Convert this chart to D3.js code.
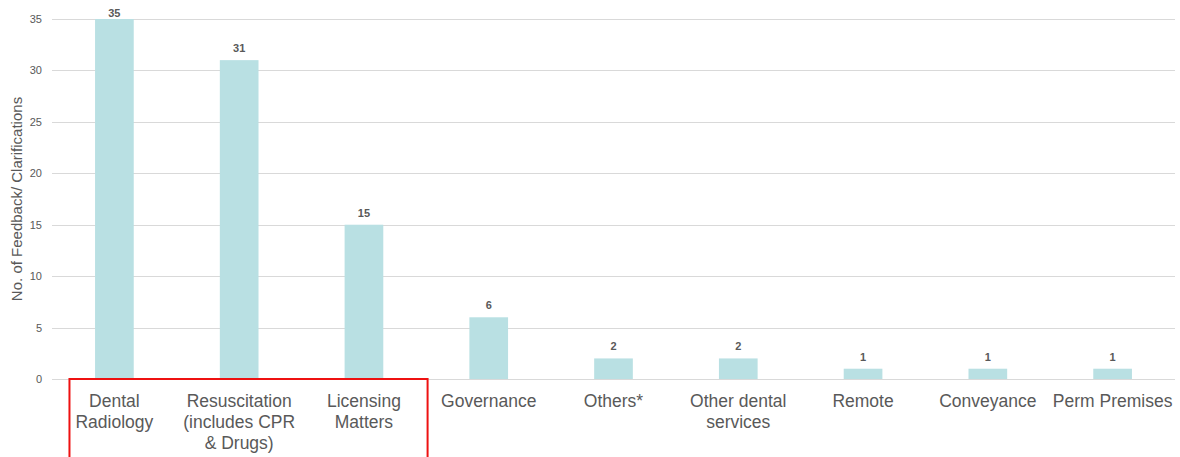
<!DOCTYPE html>
<html>
<head>
<meta charset="utf-8">
<script src="https://cdn.jsdelivr.net/npm/d3@7"></script>
<style>
  body { margin: 0; background: #fff; }
  svg { display: block; }
  svg text { font-family: 'Liberation Sans', Arial, sans-serif; }
</style>
</head>
<body>
<svg id="chart" width="1180" height="457"></svg>
<script>
// data
const categories = [
  ['Dental', 'Radiology'],
  ['Resuscitation', '(includes CPR', '& Drugs)'],
  ['Licensing', 'Matters'],
  ['Governance'],
  ['Others*'],
  ['Other dental', 'services'],
  ['Remote'],
  ['Conveyance'],
  ['Perm Premises']
];
const counts = [35, 31, 15, 6, 2, 2, 1, 1, 1];
const yTicks = [0, 5, 10, 15, 20, 25, 30, 35];
const highlighted = [0, 1, 2]; // boxed in red

const FONT = "'Liberation Sans', Arial, sans-serif";
const svg = d3.select('#chart');
const m = { left: 52, right: 5, top: 19, bottom: 78 };
const W = 1180, H = 457;

const x = d3.scaleBand()
    .domain(d3.range(categories.length))
    .range([m.left, W - m.right])
    .paddingInner(0.69).paddingOuter(0.345);
const y = d3.scaleLinear().domain([0, 35]).range([H - m.bottom, m.top]);

// gridlines
svg.append('g')
    .selectAll('line')
    .data(yTicks)
    .join('line')
    .attr('x1', m.left).attr('x2', W - m.right)
    .attr('y1', d => Math.round(y(d)) + 0.5).attr('y2', d => Math.round(y(d)) + 0.5)
    .attr('stroke', '#d9d9d9').attr('stroke-width', 1);

// y axis labels
const yAxis = svg.append('g')
    .attr('transform', `translate(${m.left},0)`)
    .call(d3.axisLeft(y).tickValues(yTicks).tickSize(0).tickPadding(10));
yAxis.attr('font-family', FONT);
yAxis.select('.domain').remove();
yAxis.selectAll('text').attr('fill', '#595959').attr('font-size', 11);

svg.append('text')
    .attr('transform', `translate(22,${(y(0) + y(35)) / 2}) rotate(-90)`)
    .attr('text-anchor', 'middle')
    .attr('fill', '#595959').attr('font-size', 15)
    .text('No. of Feedback/ Clarifications');

// bars
svg.append('g')
    .selectAll('rect')
    .data(counts)
    .join('rect')
    .attr('x', (d, i) => x(i))
    .attr('width', x.bandwidth())
    .attr('y', d => y(d))
    .attr('height', d => y(0) - y(d))
    .attr('fill', '#b9e0e3');

// value labels (top one gets squeezed against the edge)
svg.append('g')
    .selectAll('text')
    .data(counts)
    .join('text')
    .attr('x', (d, i) => x(i) + x.bandwidth() / 2)
    .attr('y', d => Math.max(17, y(d) - 8))
    .attr('text-anchor', 'middle')
    .attr('fill', '#595959').attr('font-size', 11).attr('font-weight', 700)
    .text(d => d);

// category labels
const cat = svg.append('g')
    .selectAll('text')
    .data(categories)
    .join('text')
    .attr('x', (d, i) => x(i) + x.bandwidth() / 2)
    .attr('y', y(0) + 28)
    .attr('text-anchor', 'middle')
    .attr('fill', '#595959').attr('font-size', 17.5);
cat.selectAll('tspan')
    .data(d => d)
    .join('tspan')
    .attr('x', function () { return this.parentNode.getAttribute('x'); })
    .attr('dy', (d, i) => i === 0 ? 0 : 21)
    .text(d => d);

// red highlight box around first three categories
const step = x.step();
const bx0 = x(highlighted[0]) + x.bandwidth() / 2 - step * 0.36;
const bx1 = x(highlighted[highlighted.length - 1]) + x.bandwidth() / 2 + step * 0.51;
svg.append('rect')
    .attr('x', bx0).attr('y', y(0))
    .attr('width', bx1 - bx0).attr('height', 100)
    .attr('fill', 'none').attr('stroke', '#ee1111').attr('stroke-width', 2);
</script>
</body>
</html>
